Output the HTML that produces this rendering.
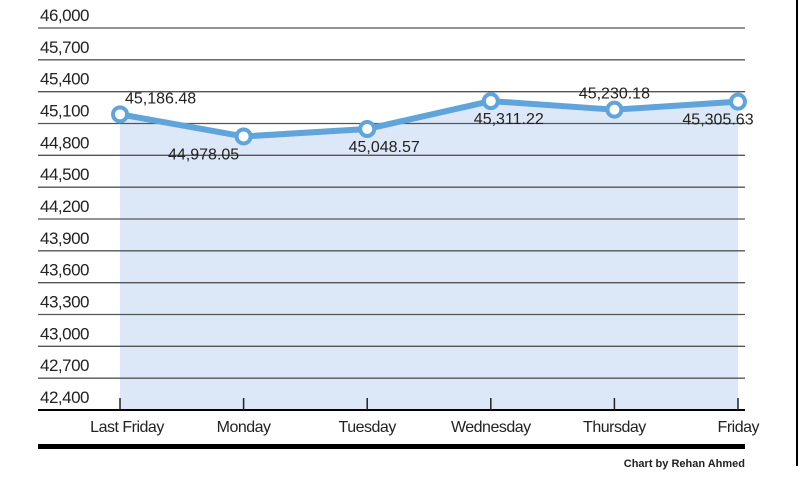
<!DOCTYPE html>
<html><head><meta charset="utf-8"><style>
body{margin:0;background:#fff}
svg{display:block;font-family:"Liberation Sans",sans-serif}
</style></head><body>
<svg id="c" width="800" height="480">
<line x1="797" y1="0" x2="797" y2="466" stroke="#000" stroke-width="2"/>
<g id="grid"></g><g id="plot"></g><g id="xaxis"></g>
<rect x="38" y="444" width="707" height="5" fill="#000"/>
<text x="745" y="467" text-anchor="end" font-size="11" font-weight="bold" fill="#222">Chart by Rehan Ahmed</text>
</svg>
<script>
const categories=["Last Friday","Monday","Tuesday","Wednesday","Thursday","Friday"];
const values=[45186.48,44978.05,45048.57,45311.22,45230.18,45305.63];
const valueLabels=["45,186.48","44,978.05","45,048.57","45,311.22","45,230.18","45,305.63"];
const yTicks=[42400,42700,43000,43300,43600,43900,44200,44500,44800,45100,45400,45700,46000];
const NS="http://www.w3.org/2000/svg";
const xPos=[120,244,366,489,613,738];
function x(i){return xPos[0]+(xPos[5]-xPos[0])*i/(categories.length-1);}
function y(v){return 410-(v-42400)/(46000-42400)*382;}
function mk(tag,attrs,parent,txt){const e=document.createElementNS(NS,tag);for(const k in attrs)e.setAttribute(k,attrs[k]);if(txt!=null)e.textContent=txt;parent.appendChild(e);return e;}
const grid=document.getElementById('grid'),plot=document.getElementById('plot'),xa=document.getElementById('xaxis');
yTicks.forEach(t=>{
 const l=mk('line',{x1:38,x2:745,y1:y(t),y2:y(t),stroke:t===42400?'#000':'#555','stroke-width':t===42400?2:1.3},grid);
 
 
 const tx=mk('text',{x:40,y:y(t)-7,'font-size':17,fill:'#222','letter-spacing':'-0.5'},grid,t.toLocaleString('en-US'));
 
 
});
let area='M'+x(0)+','+y(42400);
values.forEach((v,i)=>area+=' L'+x(i)+','+y(v));
area+=' L'+x(values.length-1)+','+y(42400)+'Z';
const a=mk('path',{d:area,fill:'#dce8f7'},plot);


grid.parentNode.insertBefore(plot,grid);
const pl=mk('polyline',{points:values.map((v,i)=>x(i)+','+y(v)).join(' '),fill:'none',stroke:'#5fa4db','stroke-width':6,'stroke-linejoin':'round'},xa);


const offs=[[5,-11,'start'],[-40,23,'middle'],[17,23,'middle'],[18,23,'middle'],[0,-11,'middle'],[-20,23,'middle']];
values.forEach((v,i)=>{
 const c=mk('circle',{cx:x(i),cy:y(v),r:7,fill:'#fff',stroke:'#5fa4db','stroke-width':4},xa);
 
 
 const o=offs[i];
 const t=mk('text',{x:x(i)+o[0],y:y(v)+o[1],'text-anchor':o[2],'font-size':16,fill:'#222'},xa,valueLabels[i]);
 
 
 const tk=mk('line',{x1:x(i),x2:x(i),y1:398,y2:410,stroke:'#222','stroke-width':1.5},xa);
 
 
 const anchor=i===categories.length-1?'end':'middle';
 const lx=i===categories.length-1?759:(i===0?127:x(i));
 const ct=mk('text',{x:lx,y:432,'text-anchor':anchor,'font-size':16,fill:'#222','letter-spacing':'-0.5'},xa,categories[i]);
 
 
});
</script>
</body></html>
